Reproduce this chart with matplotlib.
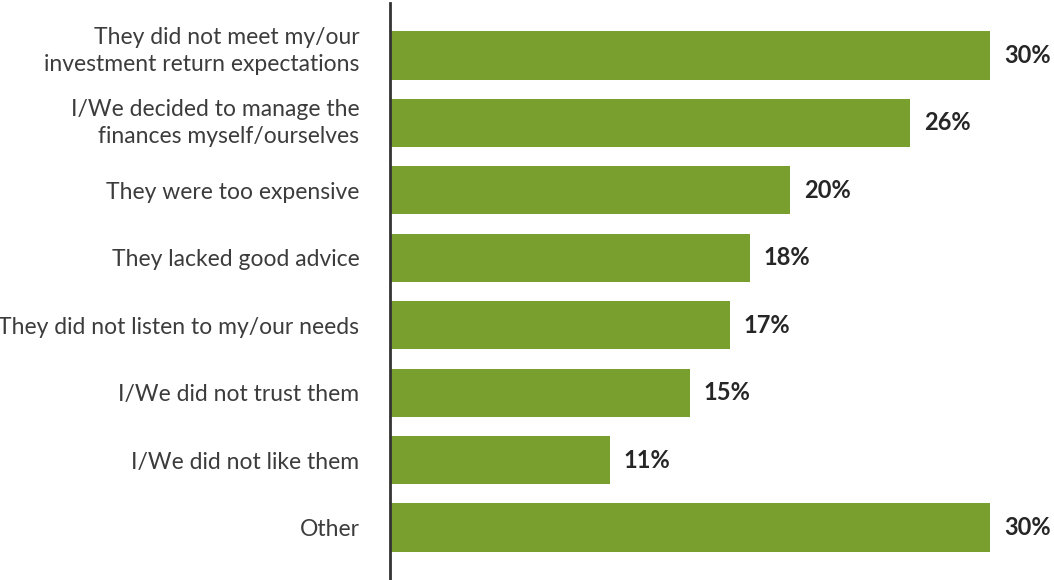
import matplotlib
matplotlib.use("Agg")
import matplotlib.pyplot as plt
import matplotlib.transforms as mtransforms

reasons = [
    "They did not meet my/our\ninvestment return expectations",
    "I/We decided to manage the\nfinances myself/ourselves",
    "They were too expensive",
    "They lacked good advice",
    "They did not listen to my/our needs",
    "I/We did not trust them",
    "I/We did not like them",
    "Other",
]
shares = [30, 26, 20, 18, 17, 15, 11, 30]

bar_color = "#79a02f"
text_color = "#3c3c3c"

plt.rcParams["font.family"] = ["Lato", "DejaVu Sans"]

fig = plt.figure(figsize=(10.54, 5.8), dpi=100)
ax = fig.add_axes([390 / 1054, 0.0, 1 - 390 / 1054, 577 / 580])

ypos = list(range(len(reasons)))
ax.barh(ypos, shares, height=0.715, color=bar_color, left=0)

for y, v in zip(ypos, shares):
    ax.annotate(f"{v}%", xy=(v, y), xytext=(10, 0), textcoords="offset points",
                ha="left", va="center", fontsize=17, fontweight="bold",
                color="#262626")

ax.set_xlim(0, 33.2)
ax.set_ylim(7.78, -0.78)
ax.set_yticks(ypos)
ax.set_yticklabels(reasons, fontsize=16.5, color=text_color, linespacing=1.35)
ax.tick_params(axis="y", length=0, pad=22)
ax.set_xticks([])

# lift the two-line labels a little (pixels at 100 dpi)
lifts = {0: 10, 1: 5}
for i, lbl in enumerate(ax.get_yticklabels()):
    if i in lifts:
        shift = mtransforms.ScaledTranslation(0, lifts[i] / 100, fig.dpi_scale_trans)
        lbl.set_transform(lbl.get_transform() + shift)

for side in ("top", "right", "bottom"):
    ax.spines[side].set_visible(False)
ax.spines["left"].set_color("#333333")
ax.spines["left"].set_linewidth(2)

fig.savefig("out.png", dpi=100)
